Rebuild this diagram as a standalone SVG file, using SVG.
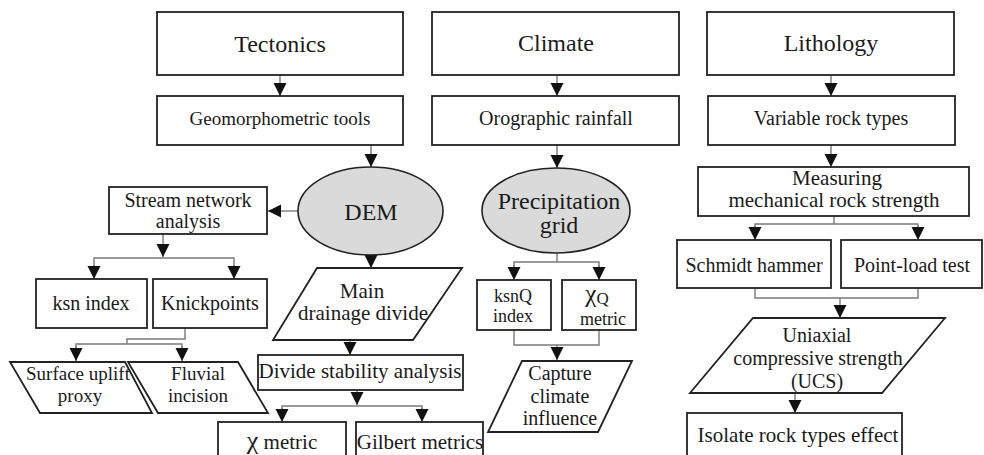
<svg xmlns="http://www.w3.org/2000/svg" width="984" height="455" viewBox="0 0 984 455">
<defs>
<marker id="ah" markerUnits="userSpaceOnUse" markerWidth="14" markerHeight="14" refX="13" refY="7" orient="auto">
<path d="M0,0.5 L13,7 L0,13.5 z" fill="#111"/>
</marker>
<style>
.b{fill:#fff;stroke:#222;stroke-width:1.8}
.e{fill:#dadada;stroke:#222;stroke-width:1.6}
.c{fill:none;stroke:#7a7a7a;stroke-width:1.4}
.a{fill:none;stroke:#7a7a7a;stroke-width:1.4;marker-end:url(#ah)}
text{font-family:'Liberation Serif','DejaVu Serif','Noto Serif',serif;fill:#1a1a1a;text-anchor:middle}
.f24{font-size:24px}.f20{font-size:20px}.f21{font-size:21px}.f19{font-size:19px}.f18{font-size:18px}
</style>
</defs>
<rect width="984" height="455" fill="#fff"/>

<g id="connectors">
<line class="a" x1="280" y1="75" x2="280" y2="96"/>
<line class="a" x1="557" y1="75" x2="557" y2="96"/>
<line class="a" x1="831" y1="75" x2="831" y2="96"/>
<line class="a" x1="371" y1="145" x2="371" y2="167"/>
<line class="a" x1="557" y1="145" x2="557" y2="168"/>
<line class="a" x1="831" y1="145" x2="831" y2="167"/>
<line class="a" x1="298" y1="211" x2="268" y2="211"/>
<line class="a" x1="163" y1="234" x2="163" y2="257"/>
<polyline class="c" points="94,272 94,258 234,258 234,272"/>
<line class="a" x1="94" y1="265" x2="94" y2="279"/>
<line class="a" x1="234" y1="265" x2="234" y2="279"/>
<polyline class="c" points="185,328 185,339 127,339 127,344"/>
<polyline class="c" points="76,352 76,344 182,344 182,352"/>
<line class="a" x1="76" y1="346" x2="76" y2="361"/>
<line class="a" x1="182" y1="346" x2="182" y2="361"/>
<line class="a" x1="371" y1="255" x2="371" y2="268"/>
<line class="a" x1="350" y1="340" x2="350" y2="355"/>
<line class="a" x1="357" y1="390" x2="357" y2="405"/>
<polyline class="c" points="282,414 282,406 422,406 422,414"/>
<line class="a" x1="282" y1="408" x2="282" y2="422"/>
<line class="a" x1="422" y1="408" x2="422" y2="422"/>
<polyline class="c" points="557,253 557,262"/>
<polyline class="c" points="514,270 514,262 599,262 599,270"/>
<line class="a" x1="514" y1="265" x2="514" y2="280"/>
<line class="a" x1="599" y1="265" x2="599" y2="280"/>
<polyline class="c" points="514,330 514,345 599,345 599,330"/>
<line class="a" x1="557" y1="345" x2="557" y2="360"/>
<line class="c" x1="834" y1="216" x2="834" y2="224"/>
<polyline class="c" points="755,232 755,224 918,224 918,232"/>
<line class="a" x1="755" y1="226" x2="755" y2="240"/>
<line class="a" x1="918" y1="226" x2="918" y2="240"/>
<polyline class="c" points="755,288 755,298 918,298 918,288"/>
<line class="a" x1="840" y1="298" x2="840" y2="318"/>
<line class="a" x1="795" y1="393" x2="795" y2="413"/>
</g>

<g id="tectonics"><rect class="b" x="157" y="12" width="246" height="63"/><text class="f24" x="280" y="52">Tectonics</text></g>
<g id="climate"><rect class="b" x="432" y="12" width="247" height="63"/><text class="f24" x="556" y="51">Climate</text></g>
<g id="lithology"><rect class="b" x="707" y="12" width="247" height="63"/><text class="f24" x="831" y="51">Lithology</text></g>

<g id="geomorph"><rect class="b" x="157" y="96" width="246" height="49"/><text class="f19" x="280" y="125">Geomorphometric tools</text></g>
<g id="orographic"><rect class="b" x="432" y="96" width="247" height="49"/><text class="f20" x="556" y="125">Orographic rainfall</text></g>
<g id="variable"><rect class="b" x="708" y="96" width="247" height="49"/><text class="f20" x="831" y="125">Variable rock types</text></g>

<g id="dem"><ellipse class="e" cx="370.5" cy="211" rx="72.5" ry="44"/><text class="f24" x="371" y="220">DEM</text></g>
<g id="precip"><ellipse class="e" cx="556" cy="210.5" rx="74" ry="42.5"/><text class="f24" x="559" y="209">Precipitation</text><text class="f24" x="559" y="233">grid</text></g>

<g id="stream"><rect class="b" x="109" y="187" width="158" height="47"/><text class="f20" x="188" y="207">Stream network</text><text class="f20" x="188" y="228">analysis</text></g>
<g id="ksn"><rect class="b" x="36" y="279" width="111" height="49"/><text class="f20" x="91" y="310">ksn index</text></g>
<g id="knick"><rect class="b" x="153" y="279" width="114" height="49"/><text class="f20" x="210" y="310">Knickpoints</text></g>

<g id="uplift"><polygon class="b" points="10,362 125,362 152,413 40,413"/><text class="f19" x="78" y="380">Surface uplift</text><text class="f19" x="80" y="402">proxy</text></g>
<g id="fluvial"><polygon class="b" points="128,362 238,362 268,413 158,413"/><text class="f19" x="198" y="380">Fluvial</text><text class="f19" x="198" y="402">incision</text></g>

<g id="divide"><polygon class="b" points="317,268 462,268 413,340 273,340"/><text class="f21" x="362" y="298">Main</text><text class="f21" x="363" y="320">drainage divide</text></g>
<g id="stability"><rect class="b" x="258" y="355" width="205" height="35"/><text class="f21" x="360" y="378">Divide stability analysis</text></g>
<g id="chi"><rect class="b" x="218" y="422" width="128" height="40"/><text class="f21" x="282" y="449"><tspan font-size="26px">χ</tspan> metric</text></g>
<g id="gilbert"><rect class="b" x="356" y="422" width="127" height="40"/><text class="f21" x="420" y="449">Gilbert metrics</text></g>

<g id="ksnq"><rect class="b" x="477" y="280" width="74" height="50"/><text class="f18" x="513" y="302">ksnQ</text><text class="f18" x="513" y="322">index</text></g>
<g id="chiq"><rect class="b" x="562" y="280" width="74" height="50"/><text x="597" y="302"><tspan font-size="25px">χ</tspan><tspan font-size="17px" dy="2">Q</tspan></text><text class="f18" x="603" y="325">metric</text></g>
<g id="capture"><polygon class="b" points="522,361 632,361 598,432 488,432"/><text class="f20" x="560" y="380">Capture</text><text class="f20" x="560" y="403">climate</text><text class="f20" x="560" y="425">influence</text></g>

<g id="measuring"><rect class="b" x="698" y="167" width="271" height="49"/><text class="f21" x="837" y="185">Measuring</text><text class="f21" x="834" y="207">mechanical rock strength</text></g>
<g id="schmidt"><rect class="b" x="677" y="240" width="154" height="48"/><text class="f20" x="754" y="272">Schmidt hammer</text></g>
<g id="pointload"><rect class="b" x="841" y="240" width="141" height="48"/><text class="f20" x="912" y="272">Point-load test</text></g>
<g id="ucs"><polygon class="b" points="753,318 945,318 882,393 690,393"/><text class="f20" x="817" y="342">Uniaxial</text><text class="f20" x="818" y="365">compressive strength</text><text class="f20" x="817" y="388">(UCS)</text></g>
<g id="isolate"><rect class="b" x="687" y="413" width="215" height="50"/><text class="f21" x="798" y="442">Isolate rock types effect</text></g>
</svg>
